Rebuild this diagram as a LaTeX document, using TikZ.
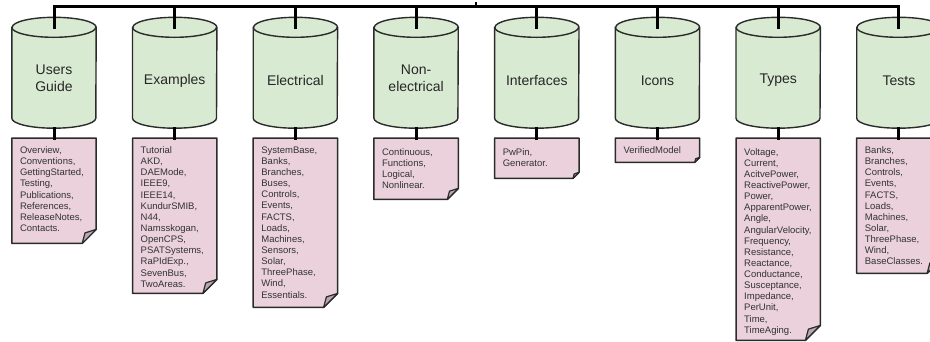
\documentclass[tikz,border=0pt]{standalone}
\usepackage{fontspec}
\setmainfont{Liberation Sans}

\definecolor{cylgreen}{HTML}{D9EAD3}
\definecolor{notepink}{HTML}{EAD1DC}
\definecolor{foldgrey}{HTML}{B9A7AF}
\definecolor{edgegrey}{HTML}{2B2B2B}

\tikzset{
  wire/.style={line width=3pt, black, line cap=rect},
  tickmark/.style={line width=1.5pt, black},
  cylbody/.style={rectangle, inner sep=0pt, minimum width=84pt, minimum height=90.5pt},
  cylshape/.style={fill=cylgreen, draw=edgegrey, line width=1.4pt},
  cylrim/.style={draw=edgegrey, line width=1.4pt},
  cyllabel/.style={inner sep=0pt, align=center, text=black!85, font=\fontsize{14}{17}\selectfont},
  notebody/.style={rectangle, inner sep=0pt, minimum width=84pt},
  noteshape/.style={fill=notepink, draw=edgegrey, line width=1.5pt, line join=round},
  notefold/.style={fill=foldgrey, draw=edgegrey, line width=1.2pt, line join=round},
  notetext/.style={inner sep=0pt, align=left, text=black!80, font=\fontsize{9.5}{11.13}\selectfont},
}

% upright drum: name, centre x, label y, label
\newcommand\drum[4]{%
  \node[cylbody] (#1) at (#2,72.75) {};
  \path[cylshape] (#1.north west) -- (#1.south west)
    arc[start angle=180, end angle=360, x radius=42pt, y radius=10pt]
    -- (#1.north east)
    arc[start angle=0, end angle=180, x radius=42pt, y radius=10pt] -- cycle;
  \path[cylrim] (#1.north west)
    arc[start angle=180, end angle=360, x radius=42pt, y radius=10pt];
  \node[cyllabel] (#1-label) at (#2,#3) {#4};
}

% sheet with a folded corner: name, centre x, height, fold size, text offset, text
\newcommand\sheet[6]{%
  \node[notebody, minimum height=#3pt, anchor=north] (#1) at (#2,138) {};
  \path[noteshape] (#1.north west) -- (#1.north east)
    -- ([yshift=#4pt]#1.south east) -- ([xshift=-#4pt]#1.south east)
    -- (#1.south west) -- cycle;
  \path[notefold] ([xshift=-#4pt]#1.south east)
    -- ([xshift=-0.8*#4pt, yshift=0.75*#4pt]#1.south east)
    -- ([yshift=#4pt]#1.south east) -- cycle;
  \node[notetext, anchor=north west] (#1-text)
    at ([xshift=8pt, yshift=-#5pt]#1.north west) {#6};
}

\begin{document}
\begin{tikzpicture}[x=1pt, y=-1pt]
\useasboundingbox (0,0) rectangle (930,341);
\clip (0,0) rectangle (930,341);

% packages
\drum{ug}{54}{78.5}{Users\\Guide}
\drum{ex}{174.7}{80.5}{Examples}
\drum{el}{295.4}{80.5}{Electrical}
\drum{ne}{416.1}{78.5}{Non-\\electrical}
\drum{if}{536.8}{80.5}{Interfaces}
\drum{ic}{657.5}{80.5}{Icons}
\drum{ty}{778.2}{80.5}{Types}
\drum{ts}{898.9}{80.5}{Tests}

% contents
\sheet{ug-note}{54}{105}{14}{8.5}{Overview,\\Conventions,\\GettingStarted,\\Testing,\\Publications,\\References,\\ReleaseNotes,\\Contacts.}
\sheet{ex-note}{174.7}{155}{14}{8.5}{Tutorial\\AKD,\\DAEMode,\\IEEE9,\\IEEE14,\\KundurSMIB,\\N44,\\Namsskogan,\\OpenCPS,\\PSATSystems,\\RaPIdExp.,\\SevenBus,\\TwoAreas.}
\sheet{el-note}{295.4}{169}{14}{8.5}{SystemBase,\\Banks,\\Branches,\\Buses,\\Controls,\\Events,\\FACTS,\\Loads,\\Machines,\\Sensors,\\Solar,\\ThreePhase,\\Wind,\\Essentials.}
\sheet{ne-note}{416.1}{61}{11}{10}{Continuous,\\Functions,\\Logical,\\Nonlinear.}
\sheet{if-note}{536.8}{40}{6}{10}{PwPin,\\Generator.}
\sheet{ic-note}{657.5}{24}{5}{8.5}{VerifiedModel}
\sheet{ty-note}{778.2}{202}{15}{10}{Voltage,\\Current,\\AcitvePower,\\ReactivePower,\\Power,\\ApparentPower,\\Angle,\\AngularVelocity,\\Frequency,\\Resistance,\\Reactance,\\Conductance,\\Susceptance,\\Impedance,\\PerUnit,\\Time,\\TimeAging.}
\sheet{ts-note}{898.9}{135}{14}{8.5}{Banks,\\Branches,\\Controls,\\Events,\\FACTS,\\Loads,\\Machines,\\Solar,\\ThreePhase,\\Wind,\\BaseClasses.}

% bus
\coordinate (ug-bus) at (54,6);
\coordinate (ex-bus) at (174.7,6);
\coordinate (el-bus) at (295.4,6);
\coordinate (ne-bus) at (416.1,6);
\coordinate (if-bus) at (536.8,6);
\coordinate (ic-bus) at (657.5,6);
\coordinate (ty-bus) at (778.2,6);
\coordinate (ts-bus) at (898.9,6);
\coordinate (tick-base) at (476,6);
\coordinate (tick-top) at (476,1.5);

\draw[wire] (ug-bus) -- (ts-bus);
\draw[tickmark] (tick-base) -- (tick-top);
\foreach \p in {ug,ex,el,ne,if,ic,ty,ts}{
  \draw[wire] (\p-bus) -- (\p.north);
  \draw[wire] ([yshift=-10pt]\p.south) -- (\p-note.north);
}
\end{tikzpicture}
\end{document}
